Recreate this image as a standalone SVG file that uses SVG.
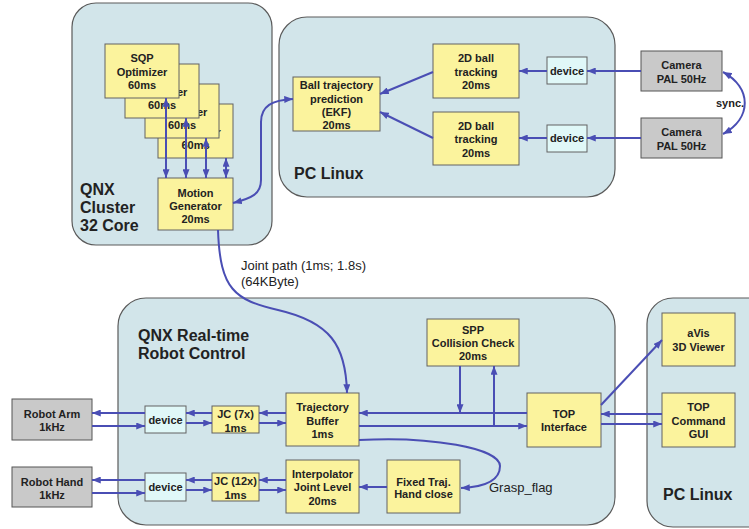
<svg xmlns="http://www.w3.org/2000/svg" width="749" height="529" viewBox="0 0 749 529">
  <style>
    .zone { fill: #d2e5ea; stroke: #5a5a5a; stroke-width: 1.2; }
    .task { fill: #fbf39d; stroke: #626262; stroke-width: 1; }
    .dev { fill: #e0f8f8; stroke: #626262; stroke-width: 1; }
    .hw { fill: #c9c9c9; stroke: #555555; stroke-width: 1; }
    text { font-family: "Liberation Sans", Arial, sans-serif; fill: #222222; }
    .t { font-size: 11px; font-weight: bold; text-anchor: middle; }
    .zl { font-size: 16px; font-weight: bold; }
    .note { font-size: 13px; }
    .link { fill: none; stroke: #4a4eb4; stroke-width: 2; }
  </style>
  <defs>
    <marker id="ah" viewBox="0 0 10 8" refX="10" refY="4" markerWidth="9" markerHeight="7" markerUnits="userSpaceOnUse" orient="auto-start-reverse">
      <path d="M0,0 L10,4 L0,8 z" fill="#4a4eb4"/>
    </marker>
  </defs>

  <!-- computing zones -->
  <g id="zone-qnx-cluster">
    <rect class="zone" x="72" y="3" width="200" height="242" rx="24"/>
    <text class="zl" x="80" y="195">QNX</text>
    <text class="zl" x="80" y="213">Cluster</text>
    <text class="zl" x="80" y="231">32 Core</text>
  </g>
  <g id="zone-pc-linux-vision">
    <rect class="zone" x="279" y="17" width="336" height="180" rx="28"/>
    <text class="zl" x="294" y="179">PC Linux</text>
  </g>
  <g id="zone-qnx-realtime">
    <rect class="zone" x="118" y="298" width="497" height="227" rx="28"/>
    <text class="zl" x="138" y="341">QNX Real-time</text>
    <text class="zl" x="138" y="359">Robot Control</text>
  </g>
  <g id="zone-pc-linux-ui">
    <rect class="zone" x="647" y="298" width="130" height="229" rx="26"/>
    <text class="zl" x="663" y="500">PC Linux</text>
  </g>

  <!-- SQP optimizer stack (back to front) -->
  <g id="sqp-4">
    <rect class="task" x="158" y="104" width="75" height="54"/>
    <text class="t" x="195.5" y="122">SQP</text>
    <text class="t" x="195.5" y="136">Optimizer</text>
    <text class="t" x="195.5" y="149">60ms</text>
  </g>
  <g id="sqp-3">
    <rect class="task" x="145" y="84" width="74" height="54"/>
    <text class="t" x="182" y="102">SQP</text>
    <text class="t" x="182" y="116">Optimizer</text>
    <text class="t" x="182" y="129">60ms</text>
  </g>
  <g id="sqp-2">
    <rect class="task" x="125" y="64" width="74" height="54"/>
    <text class="t" x="162" y="82">SQP</text>
    <text class="t" x="162" y="96">Optimizer</text>
    <text class="t" x="162" y="109">60ms</text>
  </g>
  <g id="sqp-1">
    <rect class="task" x="105" y="44" width="74" height="54"/>
    <text class="t" x="142" y="62">SQP</text>
    <text class="t" x="142" y="76">Optimizer</text>
    <text class="t" x="142" y="89">60ms</text>
  </g>
  <g id="motion-generator">
    <rect class="task" x="158" y="178" width="75" height="52"/>
    <text class="t" x="195.5" y="197">Motion</text>
    <text class="t" x="195.5" y="210">Generator</text>
    <text class="t" x="195.5" y="223">20ms</text>
  </g>

  <!-- vision pipeline -->
  <g id="ball-prediction">
    <rect class="task" x="293" y="77" width="87" height="54"/>
    <text class="t" x="336.5" y="89">Ball trajectory</text>
    <text class="t" x="336.5" y="103">prediction</text>
    <text class="t" x="336.5" y="116">(EKF)</text>
    <text class="t" x="336.5" y="129">20ms</text>
  </g>
  <g id="tracking-1">
    <rect class="task" x="433" y="44" width="86" height="54"/>
    <text class="t" x="476" y="62">2D ball</text>
    <text class="t" x="476" y="76">tracking</text>
    <text class="t" x="476" y="89">20ms</text>
  </g>
  <g id="tracking-2">
    <rect class="task" x="433" y="112" width="86" height="53"/>
    <text class="t" x="476" y="130">2D ball</text>
    <text class="t" x="476" y="143">tracking</text>
    <text class="t" x="476" y="157">20ms</text>
  </g>
  <g id="cam-device-1">
    <rect class="dev" x="547" y="57" width="40" height="27"/>
    <text class="t" x="567" y="75">device</text>
  </g>
  <g id="cam-device-2">
    <rect class="dev" x="547" y="125" width="40" height="27"/>
    <text class="t" x="567" y="142">device</text>
  </g>
  <g id="camera-1">
    <rect class="hw" x="641" y="51" width="81" height="40"/>
    <text class="t" x="681.5" y="69">Camera</text>
    <text class="t" x="681.5" y="83">PAL 50Hz</text>
  </g>
  <g id="camera-2">
    <rect class="hw" x="641" y="118" width="81" height="40"/>
    <text class="t" x="681.5" y="136">Camera</text>
    <text class="t" x="681.5" y="150">PAL 50Hz</text>
  </g>

  <!-- robot control -->
  <g id="robot-arm">
    <rect class="hw" x="12" y="399" width="80" height="41"/>
    <text class="t" x="52" y="418">Robot Arm</text>
    <text class="t" x="52" y="431">1kHz</text>
  </g>
  <g id="robot-hand">
    <rect class="hw" x="12" y="467" width="80" height="40"/>
    <text class="t" x="52" y="486">Robot Hand</text>
    <text class="t" x="52" y="499">1kHz</text>
  </g>
  <g id="arm-device">
    <rect class="dev" x="145" y="406" width="41" height="27"/>
    <text class="t" x="165.5" y="423.5">device</text>
  </g>
  <g id="hand-device">
    <rect class="dev" x="145" y="473" width="41" height="28"/>
    <text class="t" x="165.5" y="491">device</text>
  </g>
  <g id="jc-arm">
    <rect class="task" x="212" y="406" width="47" height="27"/>
    <text class="t" x="235.5" y="418">JC (7x)</text>
    <text class="t" x="235.5" y="432">1ms</text>
  </g>
  <g id="jc-hand">
    <rect class="task" x="212" y="473" width="47" height="28"/>
    <text class="t" x="235.5" y="485">JC (12x)</text>
    <text class="t" x="235.5" y="499">1ms</text>
  </g>
  <g id="trajectory-buffer">
    <rect class="task" x="286" y="393" width="73" height="53"/>
    <text class="t" x="322.5" y="411">Trajectory</text>
    <text class="t" x="322.5" y="425">Buffer</text>
    <text class="t" x="322.5" y="438">1ms</text>
  </g>
  <g id="interpolator">
    <rect class="task" x="286" y="460" width="73" height="53"/>
    <text class="t" x="322.5" y="478">Interpolator</text>
    <text class="t" x="322.5" y="491">Joint Level</text>
    <text class="t" x="322.5" y="505">20ms</text>
  </g>
  <g id="fixed-traj">
    <rect class="task" x="387" y="460" width="73" height="53"/>
    <text class="t" x="423.5" y="486">Fixed Traj.</text>
    <text class="t" x="423.5" y="498">Hand close</text>
  </g>
  <g id="spp-check">
    <rect class="task" x="427" y="319" width="92" height="47"/>
    <text class="t" x="473" y="334">SPP</text>
    <text class="t" x="473" y="347">Collision Check</text>
    <text class="t" x="473" y="360">20ms</text>
  </g>
  <g id="top-interface">
    <rect class="task" x="527" y="393" width="74" height="54"/>
    <text class="t" x="564" y="418">TOP</text>
    <text class="t" x="564" y="431">Interface</text>
  </g>
  <g id="avis-viewer">
    <rect class="task" x="662" y="313" width="73" height="53"/>
    <text class="t" x="698.5" y="337">aVis</text>
    <text class="t" x="698.5" y="351">3D Viewer</text>
  </g>
  <g id="top-gui">
    <rect class="task" x="662" y="393" width="73" height="54"/>
    <text class="t" x="698.5" y="411">TOP</text>
    <text class="t" x="698.5" y="425">Command</text>
    <text class="t" x="698.5" y="438">GUI</text>
  </g>

  <!-- connectors -->
  <g id="connectors">
    <!-- motion generator <-> optimizers -->
    <path class="link" d="M166 178 L166 98" marker-start="url(#ah)" marker-end="url(#ah)"/>
    <path class="link" d="M186 178 L186 118" marker-start="url(#ah)" marker-end="url(#ah)"/>
    <path class="link" d="M206 178 L206 138" marker-start="url(#ah)" marker-end="url(#ah)"/>
    <path class="link" d="M226 178 L226 158" marker-start="url(#ah)" marker-end="url(#ah)"/>
    <!-- motion generator <-> ball prediction -->
    <path class="link" d="M233 203 C252 198 261 194 261 180 L261 122 C261 106 272 100 293 99" marker-start="url(#ah)" marker-end="url(#ah)"/>
    <!-- vision chain -->
    <path class="link" d="M433 72 L380 94" marker-end="url(#ah)"/>
    <path class="link" d="M433 138 L380 112" marker-end="url(#ah)"/>
    <path class="link" d="M547 71 L519 71" marker-end="url(#ah)"/>
    <path class="link" d="M547 138 L519 138" marker-end="url(#ah)"/>
    <path class="link" d="M641 71 L587 71" marker-end="url(#ah)"/>
    <path class="link" d="M641 138 L587 138" marker-end="url(#ah)"/>
    <path class="link" d="M723 72 C752 88 752 118 723 134" marker-start="url(#ah)" marker-end="url(#ah)"/>
    <text class="t" x="730" y="107" font-size="10.5">sync.</text>
    <!-- joint path to trajectory buffer -->
    <path class="link" d="M218 230 C220 290 235 300 278 310 C330 322 346 345 347 393" marker-end="url(#ah)"/>
    <text class="note" x="241" y="270">Joint path (1ms; 1.8s)</text>
    <text class="note" x="241" y="286">(64KByte)</text>
    <!-- arm chain -->
    <path class="link" d="M145 413 L92 413" marker-end="url(#ah)"/>
    <path class="link" d="M92 426 L145 426" marker-end="url(#ah)"/>
    <path class="link" d="M212 413 L186 413" marker-end="url(#ah)"/>
    <path class="link" d="M186 423 L212 423" marker-end="url(#ah)"/>
    <path class="link" d="M286 413 L259 413" marker-end="url(#ah)"/>
    <path class="link" d="M259 423 L286 423" marker-end="url(#ah)"/>
    <!-- hand chain -->
    <path class="link" d="M145 480 L92 480" marker-end="url(#ah)"/>
    <path class="link" d="M92 493 L145 493" marker-end="url(#ah)"/>
    <path class="link" d="M212 480 L186 480" marker-end="url(#ah)"/>
    <path class="link" d="M186 490 L212 490" marker-end="url(#ah)"/>
    <path class="link" d="M286 480 L259 480" marker-end="url(#ah)"/>
    <path class="link" d="M259 490 L286 490" marker-end="url(#ah)"/>
    <path class="link" d="M387 487 L359 487" marker-end="url(#ah)"/>
    <!-- trajectory buffer <-> TOP interface, collision check taps -->
    <path class="link" d="M527 413 L359 413" marker-end="url(#ah)"/>
    <path class="link" d="M359 426 L527 426" marker-end="url(#ah)"/>
    <path class="link" d="M460 366 L460 413" marker-end="url(#ah)"/>
    <path class="link" d="M494 426 L494 366" marker-end="url(#ah)"/>
    <!-- grasp flag -->
    <path class="link" d="M359 440 C430 436 500 448 500 466 C500 480 485 487 461 488" marker-end="url(#ah)"/>
    <text class="note" x="489" y="492">Grasp_flag</text>
    <!-- TOP interface <-> UI -->
    <path class="link" d="M662 414 L601 414" marker-end="url(#ah)"/>
    <path class="link" d="M601 424 L662 424" marker-end="url(#ah)"/>
    <path class="link" d="M601 405 L662 340" marker-end="url(#ah)"/>
  </g>
</svg>
